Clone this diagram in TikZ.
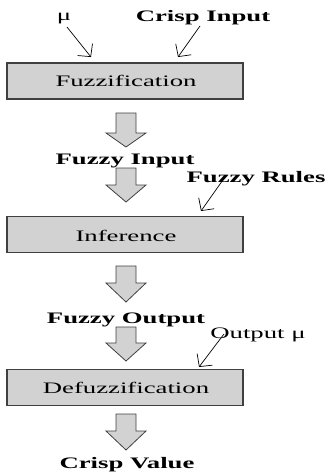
\documentclass[tikz,border=0pt]{standalone}
\usepackage{fontspec}
\setmainfont{Liberation Serif}
\usetikzlibrary{arrows.meta}
\definecolor{boxfill}{HTML}{D2D2D2}
\definecolor{edge}{HTML}{404040}
\newcommand{\wide}[1]{\scalebox{1.67}[1]{#1}}
\tikzset{
  lbl/.style={anchor=base, inner sep=0pt, font=\fontsize{16}{16}\selectfont},
  blbl/.style={lbl, font=\fontsize{16}{16}\selectfont\bfseries},
  stage/.style={draw=edge, line width=1.3pt, fill=boxfill, minimum width=236pt, minimum height=36pt, inner sep=0pt},
  thin/.style={line width=0.7pt, -{Straight Barb[length=9pt,width=19pt,line width=0.7pt]}},
  blockarrow/.style={draw=edge, line width=0.8pt, fill=boxfill, line join=miter}
}
\newcommand{\blockarr}[4]{% center x, top, head start, tip
  \path[blockarrow] (#1-10,#2) -- (#1+10,#2) -- (#1+10,#3) -- (#1+20,#3) -- (#1,#4) -- (#1-20,#3) -- (#1-10,#3) -- cycle;}
\begin{document}
\begin{tikzpicture}[x=1pt,y=-1pt]
\useasboundingbox (0,0) rectangle (327,472);
% stages
\node[stage] (fuzz) at (125,81) {};
\node[lbl] (fuzzt) at (126,86) {\wide{Fuzzification}};
\node[stage] (inf) at (125,234.5) {};
\node[lbl] (inft) at (126,241) {\wide{Inference}};
\node[stage] (defuzz) at (125,387.5) {};
\node[lbl] (defuzzt) at (126,393) {\wide{Defuzzification}};
% labels
\node[lbl] (mu) at (64,20) {\wide{μ}};
\node[blbl] (crisp) at (203,21) {\wide{Crisp Input}};
\node[blbl] (finput) at (125,164) {\wide{Fuzzy Input}};
\node[blbl] (frules) at (256,182) {\wide{Fuzzy Rules}};
\node[blbl] (foutput) at (126,323) {\wide{Fuzzy Output}};
\node[lbl] (outmu) at (258,338) {\wide{Output μ}};
\node[blbl] (cvalue) at (127,468) {\wide{Crisp Value}};
% thin arrows
\coordinate (a1s) at (67,27);   \coordinate (a1e) at (91,57);
\coordinate (a2s) at (200,26);  \coordinate (a2e) at (178,57);
\coordinate (a3s) at (225,177); \coordinate (a3e) at (201,211);
\coordinate (a4s) at (224,334); \coordinate (a4e) at (199,367);
\draw[thin] (a1s) -- (a1e);
\draw[thin] (a2s) -- (a2e);
\draw[thin] (a3s) -- (a3e);
\draw[thin] (a4s) -- (a4e);
% block arrows
\blockarr{126}{113}{133}{147}
\blockarr{126}{168}{185}{202}
\blockarr{126}{266}{283}{302}
\blockarr{126}{327}{343}{361}
\blockarr{126}{414}{431}{450}
\end{tikzpicture}
\end{document}
